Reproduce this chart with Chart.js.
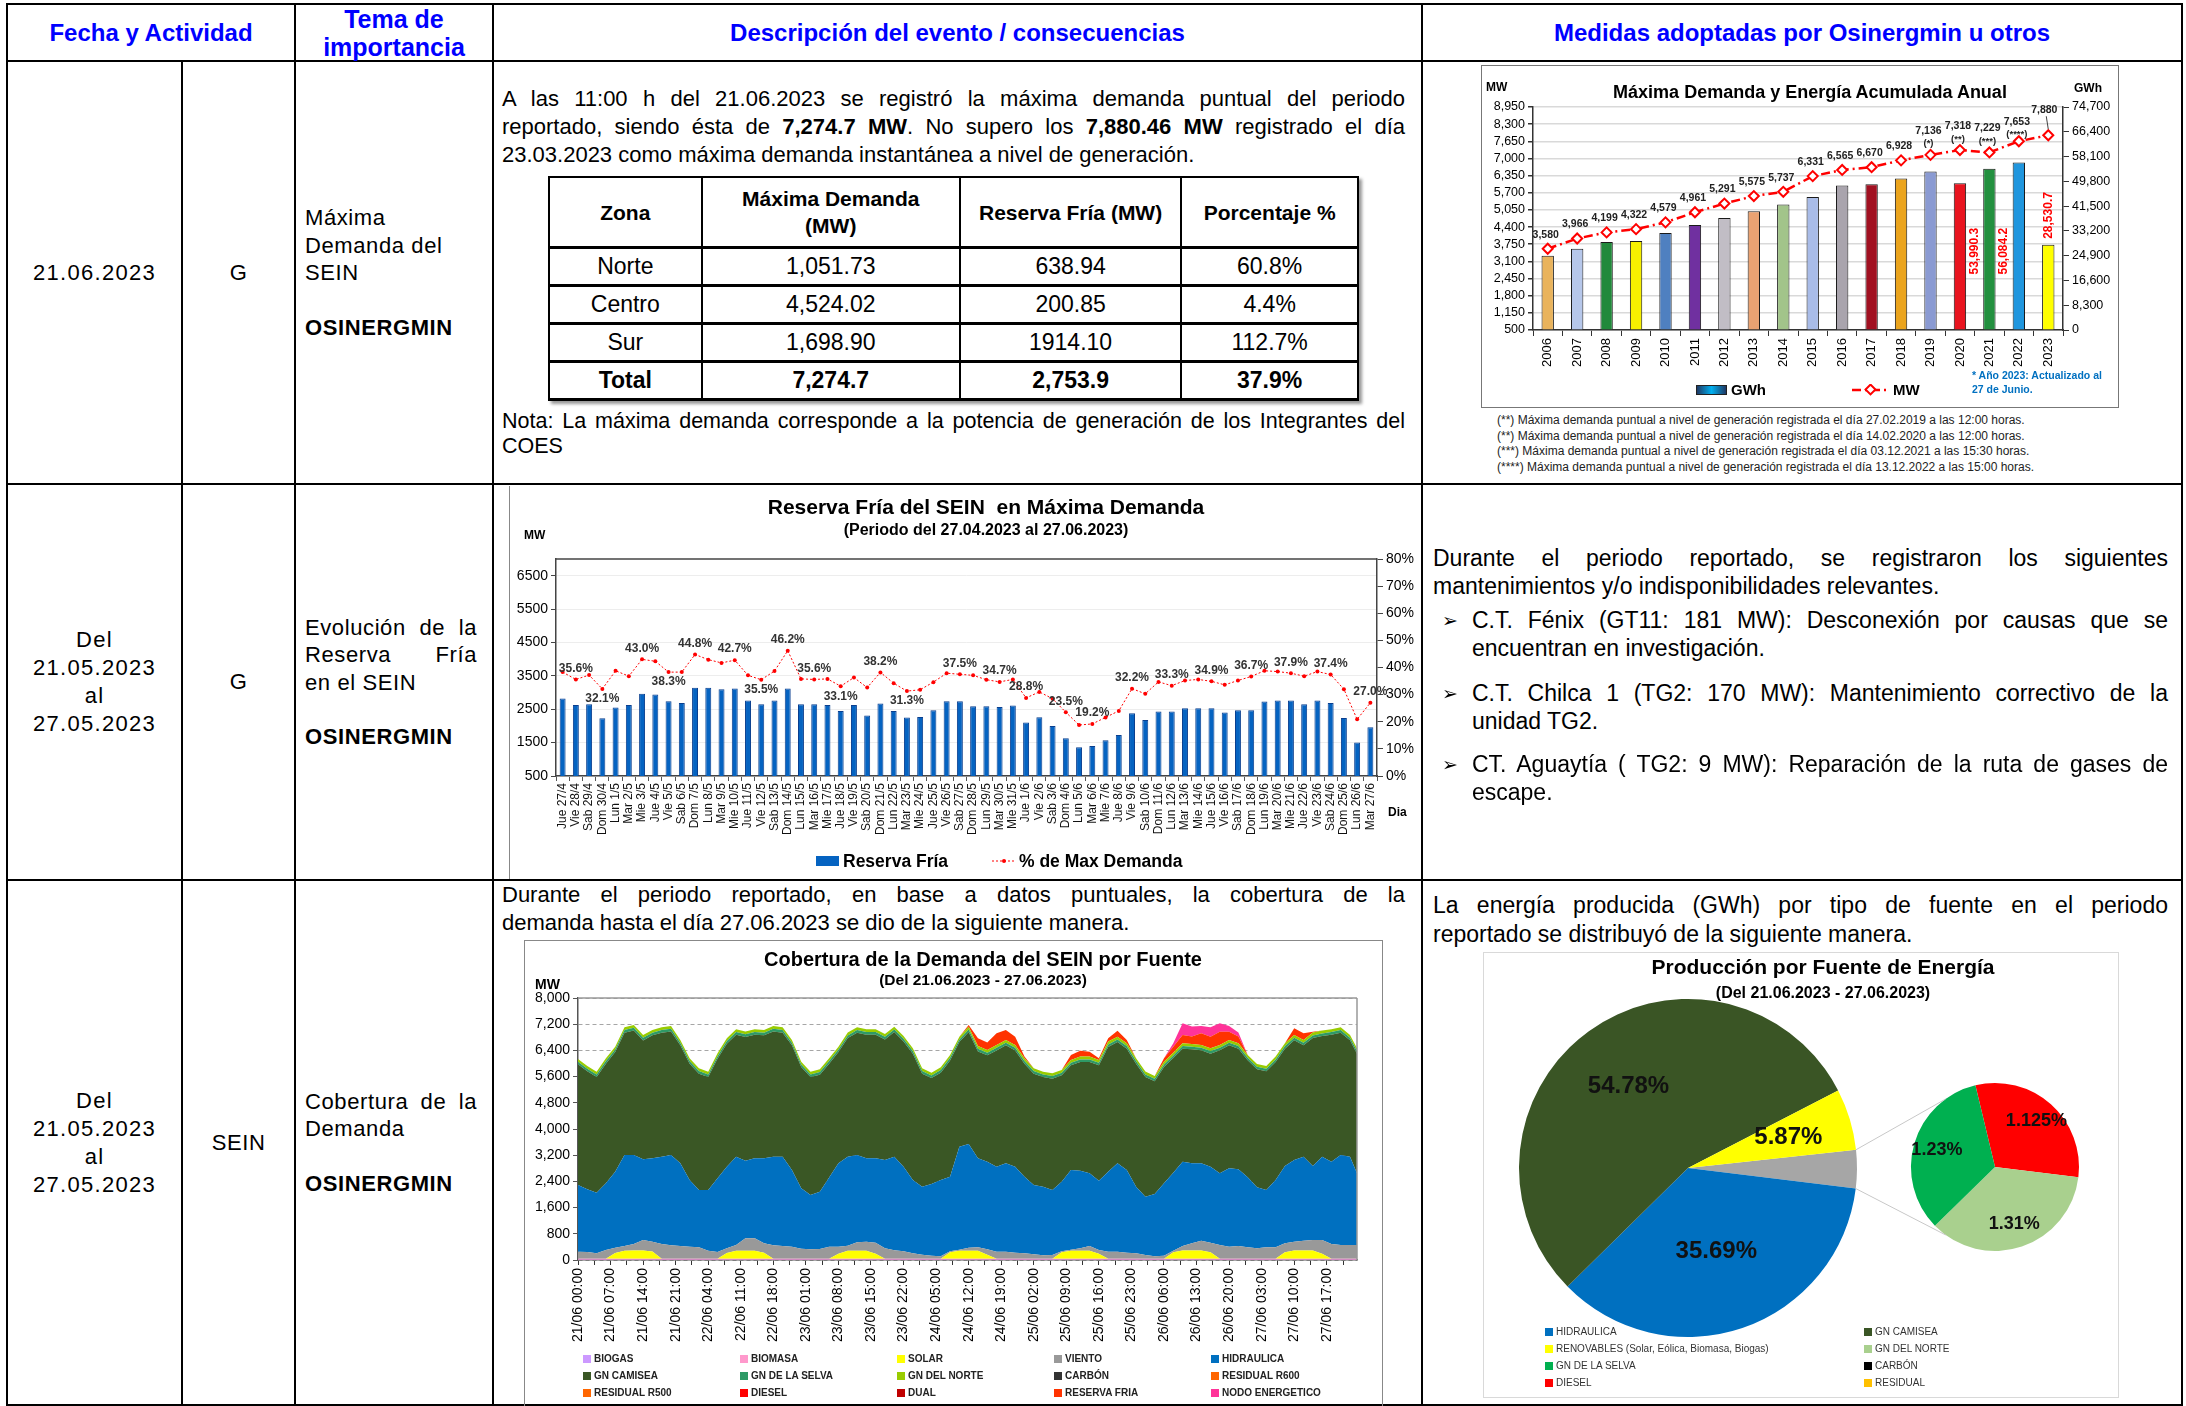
<!DOCTYPE html>
<html lang="es">
<head>
<meta charset="utf-8">
<title>Reporte SEIN</title>
<script src="https://cdn.jsdelivr.net/npm/chart.js@4.4.1/dist/chart.umd.min.js"></script>
<style>
  html, body { margin: 0; padding: 0; }
  body { width: 2186px; height: 1406px; position: relative; overflow: hidden; background: #fff;
         font-family: "Liberation Sans", Arial, Helvetica, sans-serif; color: #000; }
  .hl { position: absolute; height: 2px; background: #000; }
  .vl { position: absolute; width: 2px; background: #000; }
  .th { position: absolute; display: flex; align-items: center; justify-content: center; text-align: center;
        color: #0000FF; font-weight: bold; font-size: 24px; line-height: 28px; }
  .cel { position: absolute; display: flex; align-items: center; justify-content: center; text-align: center;
         font-size: 22px; line-height: 28px; letter-spacing: 0.6px; }
  .fecha { letter-spacing: 1.3px; }
  .tema { position: absolute; display: flex; flex-direction: column; justify-content: center;
          font-size: 22px; line-height: 27.5px; letter-spacing: 0.6px; text-align: left; }
  .tema p { margin: 0; }
  .tema b { margin-top: 27px; display: block; }
  .txt { position: absolute; font-size: 22px; line-height: 28px; text-align: justify; }
  .txt p { margin: 0; }
  .jl { display: block; text-align: justify; text-align-last: justify; }
  .bul { position: relative; padding-left: 39px; }
  .bul::before { content: "\27A2"; position: absolute; left: 9px; top: 0; font-family: "DejaVu Sans", sans-serif; font-size: 19px; }
  canvas { position: absolute; }
  .lbl { position: absolute; white-space: nowrap; }
  .ctr { position: absolute; text-align: center; white-space: nowrap; font-weight: bold; }
  table.zona { position: absolute; left: 548px; top: 176px; width: 811px; border-collapse: collapse;
               font-size: 23px; box-shadow: 3px 3px 3px #999; }
  table.zona td, table.zona th { border: 2px solid #000; text-align: center; padding: 0; }
  table.zona tr { border-bottom: 3px solid #000; }
  table.zona th { font-size: 21px; line-height: 27px; height: 68px; }
  table.zona td { height: 35px; }
  .leg { position: absolute; display: grid; font-size: 10px; font-weight: bold; color: #222; }
  .leg span { display: flex; align-items: center; white-space: nowrap; }
  .leg i { display: inline-block; width: 8px; height: 8px; margin-right: 3px; }
</style>
</head>
<body>

<!-- lineas de la tabla principal -->
<div class="hl" style="left:6px;top:3px;width:2177px"></div>
<div class="hl" style="left:6px;top:60px;width:2177px"></div>
<div class="hl" style="left:6px;top:483px;width:2177px"></div>
<div class="hl" style="left:6px;top:879px;width:2177px"></div>
<div class="hl" style="left:6px;top:1404px;width:2177px"></div>
<div class="vl" style="left:6px;top:3px;height:1403px"></div>
<div class="vl" style="left:181px;top:60px;height:1346px"></div>
<div class="vl" style="left:294px;top:3px;height:1403px"></div>
<div class="vl" style="left:492px;top:3px;height:1403px"></div>
<div class="vl" style="left:1421px;top:3px;height:1403px"></div>
<div class="vl" style="left:2181px;top:3px;height:1403px"></div>

<!-- cabecera -->
<div class="th" style="left:8px;top:5px;width:286px;height:55px;font-size:24px">Fecha y Actividad</div>
<div class="th" style="left:296px;top:5px;width:196px;height:55px;font-size:25px">Tema de<br>importancia</div>
<div class="th" style="left:494px;top:5px;width:927px;height:55px">Descripción del evento / consecuencias</div>
<div class="th" style="left:1423px;top:5px;width:758px;height:55px">Medidas adoptadas por Osinergmin u otros</div>

<!-- columnas izquierdas -->
<div class="cel fecha" style="left:8px;top:62px;width:173px;height:421px">21.06.2023</div>
<div class="cel" style="left:183px;top:62px;width:111px;height:421px">G</div>
<div class="tema" style="left:305px;top:62px;width:172px;height:421px"><p>Máxima<br>Demanda del<br>SEIN</p><b>OSINERGMIN</b></div>

<div class="cel fecha" style="left:8px;top:485px;width:173px;height:394px">Del<br>21.05.2023<br>al<br>27.05.2023</div>
<div class="cel" style="left:183px;top:485px;width:111px;height:394px">G</div>
<div class="tema" style="left:305px;top:485px;width:172px;height:394px"><p><span class="jl">Evolución de la</span><span class="jl">Reserva Fría</span>en el SEIN</p><b>OSINERGMIN</b></div>

<div class="cel fecha" style="left:8px;top:881px;width:173px;height:523px">Del<br>21.05.2023<br>al<br>27.05.2023</div>
<div class="cel" style="left:183px;top:881px;width:111px;height:523px">SEIN</div>
<div class="tema" style="left:305px;top:881px;width:172px;height:523px"><p><span class="jl">Cobertura de la</span>Demanda</p><b>OSINERGMIN</b></div>

<!-- fila 1: descripcion -->
<div class="txt" style="left:502px;top:85px;width:903px"><span class="jl">A las 11:00 h del 21.06.2023 se registró la máxima demanda puntual del periodo</span><span class="jl">reportado, siendo ésta de <b>7,274.7 MW</b>. No supero los <b>7,880.46 MW</b> registrado el día</span>23.03.2023 como máxima demanda instantánea a nivel de generación.</div>
<table class="zona" id="tablaZona"></table>
<div class="txt" style="left:502px;top:409px;width:903px;line-height:25px;font-size:21.5px">Nota: La máxima demanda corresponde a la potencia de generación de los Integrantes del COES</div>

<!-- fila 1: grafico maxima demanda -->
<div style="position:absolute;left:1481px;top:65px;width:638px;height:343px;border:1.5px solid #777;box-sizing:border-box"></div>
<canvas id="cMaxDem" width="637" height="342" style="left:1482px;top:66px"></canvas>
<div class="ctr" style="left:1510px;top:81px;width:600px;font-size:18px;line-height:22px">Máxima Demanda y Energía Acumulada Anual</div>
<div class="lbl" style="left:1486px;top:80px;font-size:12px;font-weight:bold">MW</div>
<div class="lbl" style="left:2074px;top:81px;font-size:12px;font-weight:bold">GWh</div>
<div style="position:absolute;left:1696px;top:385px;width:31px;height:10px;border:1px solid #222;box-sizing:border-box;background:linear-gradient(to right,#1F3864,#00B0F0,#1F3864)"></div>
<div class="lbl" style="left:1731px;top:381px;font-size:15px;font-weight:bold;line-height:18px">GWh</div>
<svg style="position:absolute;left:1852px;top:384px" width="38" height="12"><line x1="0" y1="6" x2="38" y2="6" stroke="#FF0000" stroke-width="2.5" stroke-dasharray="9,4,2,4"/><rect x="15" y="2" width="7" height="7" transform="rotate(45 18.5 5.5)" fill="#fff" stroke="#FF0000" stroke-width="2"/></svg>
<div class="lbl" style="left:1893px;top:381px;font-size:15px;font-weight:bold;line-height:18px">MW</div>
<div class="lbl" style="left:1972px;top:368px;font-size:10.5px;font-weight:bold;color:#0070C0;line-height:14px">* Año 2023: Actualizado al<br>27 de Junio.</div>
<div class="lbl" style="left:1497px;top:413px;font-size:12px;line-height:15.7px;color:#222">(**) Máxima demanda puntual a nivel de generación registrada el día 27.02.2019 a las 12:00 horas.<br>(**) Máxima demanda puntual a nivel de generación registrada el día 14.02.2020 a las 12:00 horas.<br>(***) Máxima demanda puntual a nivel de generación registrada el día 03.12.2021 a las 15:30 horas.<br>(****) Máxima demanda puntual a nivel de generación registrada el día 13.12.2022 a las 15:00 horas.</div>

<!-- fila 2: reserva fria -->
<div style="position:absolute;left:509px;top:486px;width:1px;height:393px;background:#888"></div>
<canvas id="cReserva" width="912" height="390" style="left:509px;top:488px"></canvas>
<div class="ctr" style="left:686px;top:494px;width:600px;font-size:21px;line-height:26px">Reserva Fría del SEIN&nbsp; en Máxima Demanda</div>
<div class="ctr" style="left:686px;top:520px;width:600px;font-size:16px;line-height:19px">(Periodo del 27.04.2023 al 27.06.2023)</div>
<div class="lbl" style="left:524px;top:528px;font-size:12px;font-weight:bold">MW</div>
<div class="lbl" style="left:1388px;top:805px;font-size:12px;font-weight:bold">Dia</div>
<div style="position:absolute;left:816px;top:856px;width:23px;height:10px;background:#0563C1"></div>
<div class="lbl" style="left:843px;top:851px;font-size:17.5px;font-weight:bold;line-height:20px">Reserva Fría</div>
<svg style="position:absolute;left:992px;top:855px" width="24" height="12"><line x1="0" y1="6" x2="24" y2="6" stroke="#FF0000" stroke-width="1" stroke-dasharray="2,2"/><circle cx="12" cy="6" r="2" fill="#FF0000"/></svg>
<div class="lbl" style="left:1019px;top:851px;font-size:17.5px;font-weight:bold;line-height:20px">% de Max Demanda</div>

<div class="txt" style="left:1433px;top:544px;width:735px;font-size:23px">
  <p><span class="jl">Durante el periodo reportado, se registraron los siguientes</span>mantenimientos y/o indisponibilidades relevantes.</p>
  <p class="bul" style="margin-top:6px"><span class="jl">C.T. Fénix (GT11: 181 MW): Desconexión por causas que se</span>encuentran en investigación.</p>
  <p class="bul" style="margin-top:17px"><span class="jl">C.T. Chilca 1 (TG2: 170 MW): Mantenimiento correctivo de la</span>unidad TG2.</p>
  <p class="bul" style="margin-top:15px"><span class="jl">CT. Aguaytía ( TG2: 9 MW): Reparación de la ruta de gases de</span>escape.</p>
</div>

<!-- fila 3: cobertura -->
<div class="txt" style="left:502px;top:881px;width:903px"><span class="jl">Durante el periodo reportado, en base a datos puntuales, la cobertura de la</span>demanda hasta el día 27.06.2023 se dio de la siguiente manera.</div>
<div style="position:absolute;left:524px;top:940px;width:859px;height:480px;border:1px solid #888;box-sizing:border-box"></div>
<canvas id="cCobertura" width="859" height="466" style="left:524px;top:940px"></canvas>
<div class="ctr" style="left:683px;top:947px;width:600px;font-size:20px;line-height:24px">Cobertura de la Demanda del SEIN por Fuente</div>
<div class="ctr" style="left:683px;top:971px;width:600px;font-size:15.5px;line-height:18px">(Del 21.06.2023 - 27.06.2023)</div>
<div class="lbl" style="left:535px;top:976px;font-size:14px;font-weight:bold">MW</div>
<div class="leg" id="legCobertura" style="left:583px;top:1350px;grid-template-columns:repeat(5,157px);grid-auto-rows:17px"></div>

<div class="txt" style="left:1433px;top:891px;width:735px;font-size:23px;line-height:29px"><span class="jl">La energía producida (GWh) por tipo de fuente en el periodo</span>reportado se distribuyó de la siguiente manera.</div>
<div style="position:absolute;left:1483px;top:952px;width:636px;height:446px;border:1.5px solid #D9D9D9;box-sizing:border-box"></div>
<canvas id="cPie" width="636" height="446" style="left:1483px;top:952px"></canvas>
<canvas id="cPie2" width="636" height="446" style="left:1483px;top:952px"></canvas>
<div class="ctr" style="left:1523px;top:954px;width:600px;font-size:21px;line-height:25px">Producción por Fuente de Energía</div>
<div class="ctr" style="left:1523px;top:983px;width:600px;font-size:16px;line-height:19px">(Del 21.06.2023 - 27.06.2023)</div>
<div class="leg" id="legPie" style="left:1545px;top:1323px;grid-template-columns:319px 200px;grid-auto-rows:17px;font-weight:normal;color:#333"></div>

<script>
// ---------- tabla de zonas ----------
const zonas = ['Norte', 'Centro', 'Sur', 'Total'];
const zonaMaxDemanda = ['1,051.73', '4,524.02', '1,698.90', '7,274.7'];
const zonaReservaFria = ['638.94', '200.85', '1914.10', '2,753.9'];
const zonaPorcentaje = ['60.8%', '4.4%', '112.7%', '37.9%'];

// ---------- maxima demanda y energia anual ----------
const anios = ['2006', '2007', '2008', '2009', '2010', '2011', '2012', '2013', '2014', '2015', '2016', '2017', '2018', '2019', '2020', '2021', '2022', '2023'];
const energiaGWh = [24860, 27220, 29450, 29790, 32480, 35170, 37520, 39760, 42000, 44570, 48380, 48830, 50730, 53090, 49170, 53990.3, 56084.2, 28530.7];
const maxDemandaMW = [3580, 3966, 4199, 4322, 4579, 4961, 5291, 5575, 5737, 6331, 6565, 6670, 6928, 7136, 7318, 7229, 7653, 7880];
const notaMW = ['', '', '', '', '', '', '', '', '', '', '', '', '', '(*)', '(**)', '(***)', '(****)', ''];
const coloresAnio = ['#E9B35C', '#B6C7EA', '#21893B', '#F7F000', '#4F80C0', '#7030A0', '#C1BDC5', '#E9A272', '#A2C48A', '#A9BCE8', '#A9A4AD', '#A11021', '#EBA41D', '#8A9AD2', '#E9141F', '#23903F', '#2096DE', '#FFFF00'];
const gwhEtiquetaIdx = [15, 16, 17];

// ---------- reserva fria ----------
const dias = ['Jue 27/4', 'Vie 28/4', 'Sab 29/4', 'Dom 30/4', 'Lun 1/5', 'Mar 2/5', 'Mie 3/5', 'Jue 4/5', 'Vie 5/5', 'Sab 6/5',
  'Dom 7/5', 'Lun 8/5', 'Mar 9/5', 'Mie 10/5', 'Jue 11/5', 'Vie 12/5', 'Sab 13/5', 'Dom 14/5', 'Lun 15/5', 'Mar 16/5',
  'Mie 17/5', 'Jue 18/5', 'Vie 19/5', 'Sab 20/5', 'Dom 21/5', 'Lun 22/5', 'Mar 23/5', 'Mie 24/5', 'Jue 25/5', 'Vie 26/5',
  'Sab 27/5', 'Dom 28/5', 'Lun 29/5', 'Mar 30/5', 'Mie 31/5', 'Jue 1/6', 'Vie 2/6', 'Sab 3/6', 'Dom 4/6', 'Lun 5/6',
  'Mar 6/6', 'Mie 7/6', 'Jue 8/6', 'Vie 9/6', 'Sab 10/6', 'Dom 11/6', 'Lun 12/6', 'Mar 13/6', 'Mie 14/6', 'Jue 15/6',
  'Vie 16/6', 'Sab 17/6', 'Dom 18/6', 'Lun 19/6', 'Mar 20/6', 'Mie 21/6', 'Jue 22/6', 'Vie 23/6', 'Sab 24/6', 'Dom 25/6',
  'Lun 26/6', 'Mar 27/6'];
const reservaFriaMW = [2820, 2630, 2650, 2230, 2550, 2630, 2960, 2940, 2740, 2690,
  3140, 3140, 3100, 3120, 2760, 2650, 2760, 3120, 2650, 2650,
  2630, 2450, 2630, 2310, 2670, 2450, 2250, 2270, 2470, 2740,
  2740, 2590, 2590, 2570, 2610, 2100, 2260, 2000, 1630, 1360,
  1400, 1570, 1730, 2380, 2180, 2430, 2430, 2530, 2530, 2530,
  2400, 2470, 2470, 2730, 2760, 2760, 2650, 2760, 2690, 2240,
  1500, 1960];
const pctMaxDemanda = [38.3, 35.6, 37.2, 32.1, 38.8, 36.8, 43.0, 42.3, 38.3, 38.3,
  44.8, 42.9, 41.7, 42.7, 37.1, 35.5, 38.7, 46.2, 35.8, 35.6,
  35.8, 33.1, 36.3, 32.6, 38.2, 34.2, 31.3, 31.8, 34.6, 37.9,
  37.5, 37.1, 35.5, 34.7, 35.6, 28.8, 31.0, 28.5, 23.5, 18.8,
  19.2, 21.6, 24.0, 32.2, 30.3, 34.7, 33.3, 35.2, 35.6, 34.9,
  33.6, 35.2, 36.7, 38.8, 38.5, 37.9, 36.8, 38.5, 37.4, 32.0,
  20.9, 27.0];
const pctIdxArriba = [1, 6, 10, 13, 17, 19, 24, 30, 33, 35, 38, 40, 43, 46, 49, 52, 55, 58, 61];
const pctIdxAbajo = [3, 8, 15, 21, 26];
const mwTicks = [500, 1500, 2500, 3500, 4500, 5500, 6500];

// ---------- cobertura de la demanda (cada 2 horas) ----------
const horaEtiquetas = ['21/06 00:00', '21/06 07:00', '21/06 14:00', '21/06 21:00', '22/06 04:00', '22/06 11:00', '22/06 18:00',
  '23/06 01:00', '23/06 08:00', '23/06 15:00', '23/06 22:00', '24/06 05:00', '24/06 12:00', '24/06 19:00',
  '25/06 02:00', '25/06 09:00', '25/06 16:00', '25/06 23:00', '26/06 06:00', '26/06 13:00', '26/06 20:00',
  '27/06 03:00', '27/06 10:00', '27/06 17:00'];
const horas = [0, 2, 4, 6, 8, 10, 12, 14, 16, 18, 20, 22,
  24, 26, 28, 30, 32, 34, 36, 38, 40, 42, 44, 46,
  48, 50, 52, 54, 56, 58, 60, 62, 64, 66, 68, 70,
  72, 74, 76, 78, 80, 82, 84, 86, 88, 90, 92, 94,
  96, 98, 100, 102, 104, 106, 108, 110, 112, 114, 116, 118,
  120, 122, 124, 126, 128, 130, 132, 134, 136, 138, 140, 142,
  144, 146, 148, 150, 152, 154, 156, 158, 160, 162, 164, 166,
  167.5];
const biogasMW = [5, 5, 5, 5, 5, 5, 5, 5, 5, 5, 5, 5,
  5, 5, 5, 5, 5, 5, 5, 5, 5, 5, 5, 5,
  5, 5, 5, 5, 5, 5, 5, 5, 5, 5, 5, 5,
  5, 5, 5, 5, 5, 5, 5, 5, 5, 5, 5, 5,
  5, 5, 5, 5, 5, 5, 5, 5, 5, 5, 5, 5,
  5, 5, 5, 5, 5, 5, 5, 5, 5, 5, 5, 5,
  5, 5, 5, 5, 5, 5, 5, 5, 5, 5, 5, 5,
  5];
const biomasaMW = [35, 35, 35, 35, 35, 35, 35, 35, 35, 35, 35, 35,
  35, 35, 35, 35, 35, 35, 35, 35, 35, 35, 35, 35,
  35, 35, 35, 35, 35, 35, 35, 35, 35, 35, 35, 35,
  35, 35, 35, 35, 35, 35, 35, 35, 35, 35, 35, 35,
  35, 35, 35, 35, 35, 35, 35, 35, 35, 35, 35, 35,
  35, 35, 35, 35, 35, 35, 35, 35, 35, 35, 35, 35,
  35, 35, 35, 35, 35, 35, 35, 35, 35, 35, 35, 35,
  35];
const solarMW = [0, 0, 0, 0, 170, 245, 250, 250, 220, 0, 0, 0,
  0, 0, 0, 0, 170, 240, 245, 245, 180, 0, 0, 0,
  0, 0, 0, 0, 150, 240, 240, 240, 150, 0, 0, 0,
  0, 0, 0, 0, 200, 240, 240, 240, 120, 0, 0, 0,
  0, 0, 0, 0, 200, 240, 240, 240, 150, 0, 0, 0,
  0, 0, 0, 0, 200, 250, 250, 250, 200, 0, 0, 0,
  0, 0, 0, 0, 200, 250, 250, 250, 150, 0, 0, 0,
  0];
const vientoMW = [215, 204, 164, 265, 167, 143, 199, 321, 300, 449, 408, 388,
  367, 347, 245, 204, 146, 178, 377, 377, 289, 408, 388, 367,
  306, 286, 296, 367, 217, 158, 260, 280, 340, 316, 255, 225,
  164, 123, 92, 72, 30, 30, 97, 107, 166, 215, 215, 184,
  164, 133, 103, 113, 30, 30, 76, 148, 115, 215, 215, 184,
  164, 113, 72, 92, 45, 138, 219, 300, 290, 418, 367, 388,
  347, 316, 347, 347, 269, 270, 300, 321, 421, 449, 418, 418,
  418];
const hidroMW = [2035, 1914, 1852, 2036, 2321, 2779, 2718, 2463, 2545, 2667, 2759, 2524,
  2036, 1751, 1853, 2250, 2494, 2698, 2372, 2443, 2596, 2708, 2728, 2342,
  1843, 1659, 1751, 2113, 2545, 2718, 2667, 2545, 2575, 2698, 2861, 2585,
  2239, 2077, 2189, 2331, 2275, 3151, 3166, 2718, 2677, 2595, 2697, 2626,
  2341, 2117, 2097, 1985, 2122, 2439, 2372, 2219, 2118, 2443, 2697, 2525,
  2036, 1781, 1904, 2209, 2382, 2575, 2443, 2362, 2320, 2189, 2393, 2341,
  2138, 1863, 1751, 2056, 2362, 2494, 2566, 2260, 2545, 2514, 2749, 2698,
  2189];
const camiseaMW = [3685, 3602, 3529, 3654, 3652, 3733, 3803, 3631, 3755, 3784, 3773, 3603,
  3552, 3552, 3447, 3651, 3755, 3724, 3776, 3775, 3755, 3824, 3784, 3806,
  3701, 3600, 3573, 3475, 3398, 3622, 3733, 3775, 3775, 3681, 3804, 3825,
  3857, 3450, 3234, 3277, 3550, 3194, 3417, 3265, 3247, 3550, 3603, 3550,
  3450, 3400, 3345, 3397, 3248, 3194, 3317, 3398, 3520, 3805, 3703, 3703,
  3754, 3653, 3439, 3551, 3500, 3449, 3480, 3449, 3449, 3754, 3754, 3683,
  3571, 3602, 3622, 3602, 3581, 3653, 3398, 3907, 3683, 3877, 3733, 3551,
  3652];
const gnSelvaMW = [80, 80, 80, 80, 80, 80, 80, 80, 80, 80, 80, 80,
  80, 80, 80, 80, 80, 80, 80, 80, 80, 80, 80, 80,
  80, 80, 80, 80, 80, 80, 80, 80, 80, 80, 80, 80,
  80, 80, 80, 80, 80, 80, 80, 80, 80, 80, 80, 80,
  80, 80, 80, 80, 80, 80, 80, 80, 80, 80, 80, 80,
  80, 80, 80, 80, 80, 80, 80, 80, 80, 80, 80, 80,
  80, 80, 80, 80, 80, 80, 80, 80, 80, 80, 80, 80,
  80];
const gnNorteMW = [85, 85, 85, 85, 85, 85, 85, 85, 85, 85, 85, 85,
  85, 85, 85, 85, 85, 85, 85, 85, 85, 85, 85, 85,
  85, 85, 85, 85, 85, 85, 85, 85, 85, 85, 85, 85,
  85, 85, 85, 85, 85, 85, 85, 85, 85, 85, 85, 85,
  85, 85, 85, 85, 85, 85, 85, 85, 85, 85, 85, 85,
  85, 85, 85, 85, 85, 85, 85, 85, 85, 85, 85, 85,
  85, 85, 85, 85, 85, 85, 85, 85, 85, 85, 85, 85,
  85];
const reservaCobMW = [0, 0, 0, 0, 0, 0, 0, 0, 0, 0, 0, 0,
  0, 0, 0, 0, 0, 0, 0, 0, 0, 0, 0, 0,
  0, 0, 0, 0, 0, 0, 0, 0, 0, 0, 0, 0,
  0, 0, 0, 0, 0, 0, 50, 234, 224, 356, 305, 254,
  50, 0, 0, 0, 0, 150, 183, 150, 50, 100, 183, 100,
  0, 0, 0, 100, 183, 254, 224, 356, 356, 407, 254, 204,
  0, 0, 0, 0, 0, 204, 204, 30, 0, 0, 0, 0,
  0];
const nodoMW = [0, 0, 0, 0, 0, 0, 0, 0, 0, 0, 0, 0,
  0, 0, 0, 0, 0, 0, 0, 0, 0, 0, 0, 0,
  0, 0, 0, 0, 0, 0, 0, 0, 0, 0, 0, 0,
  0, 0, 0, 0, 0, 0, 0, 0, 0, 0, 0, 0,
  0, 0, 0, 0, 0, 0, 0, 0, 0, 0, 0, 0,
  0, 0, 0, 0, 100, 356, 305, 224, 285, 254, 173, 122,
  0, 0, 0, 0, 0, 0, 0, 0, 0, 0, 0, 0,
  0];
const fuentesLeyenda = ['BIOGAS', 'BIOMASA', 'SOLAR', 'VIENTO', 'HIDRAULICA', 'GN CAMISEA', 'GN DE LA SELVA', 'GN DEL NORTE', 'CARBÓN', 'RESIDUAL R600', 'RESIDUAL R500', 'DIESEL', 'DUAL', 'RESERVA FRIA', 'NODO ENERGETICO'];
const coloresFuente = ['#CC99FF', '#FF99CC', '#FFFF00', '#999999', '#0070C0', '#3A5725', '#2E9A66', '#99CC00', '#333333', '#FF6600', '#FF6600', '#FF0000', '#C00000', '#FF3300', '#FF3399'];

// ---------- produccion por fuente ----------
const pieEtiquetas = ['OTROS', 'HIDRAULICA', 'GN CAMISEA', 'RENOVABLES'];
const piePct = [35.69, 54.78, 5.87]; // hidraulica, camisea, renovables
const pieColores = ['#A6A6A6', '#0070C0', '#3A5525', '#FFFF00'];
const pie2Etiquetas = ['DIESEL', 'GN DEL NORTE', 'GN DE LA SELVA'];
const pie2Pct = [1.125, 1.31, 1.23];
const pie2Colores = ['#FF0000', '#A9D08E', '#00B050'];
const leyendaPie = ['HIDRAULICA', 'GN CAMISEA', 'RENOVABLES (Solar, Eólica, Biomasa, Biogas)', 'GN DEL NORTE', 'GN DE LA SELVA', 'CARBÓN', 'DIESEL', 'RESIDUAL'];
const leyendaPieColores = ['#0070C0', '#3A5525', '#FFFF00', '#A9D08E', '#00B050', '#000000', '#FF0000', '#FFC000'];

// ======================================================
const F = '"Liberation Sans", Arial, Helvetica, sans-serif';
Chart.defaults.font.family = F;
Chart.defaults.color = '#000';
Chart.defaults.animation = false;
Chart.defaults.responsive = false;
Chart.defaults.plugins.legend.display = false;
Chart.defaults.plugins.tooltip.enabled = false;
const fmt = v => v.toLocaleString('en-US');

// tabla
const tabla = document.getElementById('tablaZona');
let html = '<colgroup><col style="width:153px"><col style="width:259px"><col style="width:222px"><col style="width:177px"></colgroup>';
html += '<tr><th>Zona</th><th>Máxima Demanda<br>(MW)</th><th>Reserva Fría (MW)</th><th>Porcentaje %</th></tr>';
zonas.forEach((z, i) => {
  const b = i === zonas.length - 1 ? ' style="font-weight:bold"' : '';
  html += `<tr${b}><td>${z}</td><td>${zonaMaxDemanda[i]}</td><td>${zonaReservaFria[i]}</td><td>${zonaPorcentaje[i]}</td></tr>`;
});
tabla.innerHTML = html;

// leyendas html
function leyenda(id, nombres, colores) {
  document.getElementById(id).innerHTML = nombres.map((n, i) =>
    `<span><i style="background:${colores[i]}"></i>${n}</span>`).join('');
}
leyenda('legCobertura', fuentesLeyenda, coloresFuente);
leyenda('legPie', leyendaPie, leyendaPieColores);

// marco del area de trazado
const marco = {
  id: 'marco',
  afterDraw(chart, args, o) {
    const { left, right, top, bottom } = chart.chartArea;
    const c = chart.ctx;
    c.save();
    c.strokeStyle = o.color;
    c.lineWidth = o.width;
    c.beginPath();
    if (o.top) { c.moveTo(left, top); c.lineTo(right, top); }
    if (o.right) { c.moveTo(right, top); c.lineTo(right, bottom); }
    c.stroke();
    c.restore();
  }
};

// ---------- grafico 1 ----------
const etiquetasMaxDem = {
  id: 'etiquetasMaxDem',
  afterDatasetsDraw(chart) {
    const c = chart.ctx;
    const linea = chart.getDatasetMeta(0).data;
    const barras = chart.getDatasetMeta(1).data;
    const yS = chart.scales.yGWh;
    const ult = linea.length - 1;
    c.save();
    c.textAlign = 'center';
    c.textBaseline = 'middle';
    c.fillStyle = '#222';
    linea.forEach((p, i) => {
      c.font = 'bold 10.5px ' + F;
      if (notaMW[i]) {
        const dv = i === ult - 1 ? 19 : 24;
        const dn = i === ult - 1 ? 7 : 11;
        c.fillText(fmt(maxDemandaMW[i]), p.x - 2, p.y - dv);
        c.font = 'bold 9.5px ' + F;
        c.fillText(notaMW[i], p.x - 2, p.y - dn);
      } else if (i === ult) {
        c.fillText(fmt(maxDemandaMW[i]), p.x - 4, p.y - 25);
        c.strokeStyle = '#444'; c.lineWidth = 1;
        c.beginPath(); c.moveTo(p.x - 2, p.y - 19); c.lineTo(p.x, p.y - 6); c.stroke();
      } else {
        c.fillText(fmt(maxDemandaMW[i]), p.x - 2, p.y - 14);
      }
    });
    const paso = barras[1].x - barras[0].x;
    c.fillStyle = '#FF0000';
    c.font = 'bold 12px ' + F;
    gwhEtiquetaIdx.forEach(i => {
      const b = barras[i];
      const txt = energiaGWh[i].toLocaleString('en-US', { minimumFractionDigits: 1, maximumFractionDigits: 1 });
      const w = c.measureText(txt).width;
      let x, y;
      if (i === ult) { x = b.x; y = b.y - 6 - w / 2; }
      else { x = b.x - paso * 0.5; y = yS.getPixelForValue(26400); }
      c.save();
      c.translate(x, y);
      c.rotate(-Math.PI / 2);
      c.fillText(txt, 0, 0);
      c.restore();
    });
    c.restore();
  }
};

new Chart(document.getElementById('cMaxDem'), {
  data: {
    labels: anios,
    datasets: [
      { type: 'line', label: 'MW', data: maxDemandaMW, yAxisID: 'yMW', order: 0,
        borderColor: '#FF0000', borderWidth: 2.5, borderDash: [9, 4, 2, 4],
        pointStyle: 'rectRot', pointRadius: 5, pointBorderColor: '#FF0000',
        pointBackgroundColor: '#FFFFFF', pointBorderWidth: 2 },
      { type: 'bar', label: 'GWh', data: energiaGWh, yAxisID: 'yGWh', order: 1,
        backgroundColor: coloresAnio, borderColor: '#1a1a1a', borderWidth: 1,
        barPercentage: 0.42, categoryPercentage: 1 }
    ]
  },
  options: {
    devicePixelRatio: 1,
    layout: { padding: { left: 0, right: 0, top: 41, bottom: 38 } },
    scales: {
      x: {
        grid: { drawOnChartArea: false, color: '#333', tickLength: 6 },
        border: { color: '#333', width: 1.5 },
        ticks: { minRotation: 90, maxRotation: 90, autoSkip: false, font: { size: 13 }, color: '#000', padding: 2 },
        afterFit(a) { a.height = 40; }
      },
      yMW: {
        position: 'left', min: 500, max: 8950,
        ticks: { stepSize: 650, autoSkip: false, font: { size: 12.5 }, color: '#000', callback: v => fmt(v), padding: 3 },
        grid: { color: '#D9D9D9', lineWidth: 1.5, tickLength: 5, tickColor: '#333' },
        border: { color: '#333', width: 1.5 },
        afterFit(a) { a.width = 51; }
      },
      yGWh: {
        position: 'right', min: 0, max: 74700,
        ticks: { stepSize: 8300, autoSkip: false, font: { size: 12.5 }, color: '#000', callback: v => fmt(v), padding: 3 },
        grid: { drawOnChartArea: false, color: '#333', tickLength: 6 },
        border: { color: '#333', width: 1.5 },
        afterFit(a) { a.width = 56; }
      }
    }
  },
  plugins: [etiquetasMaxDem]
});

// ---------- grafico 2 ----------
const etiquetasPct = {
  id: 'etiquetasPct',
  afterDatasetsDraw(chart) {
    const pts = chart.getDatasetMeta(1).data;
    const c = chart.ctx;
    c.save();
    c.font = 'bold 12px ' + F;
    c.fillStyle = '#333';
    c.textAlign = 'center';
    c.textBaseline = 'middle';
    pctIdxArriba.forEach(i => c.fillText(pctMaxDemanda[i].toFixed(1) + '%', pts[i].x, pts[i].y - 11));
    pctIdxAbajo.forEach(i => c.fillText(pctMaxDemanda[i].toFixed(1) + '%', pts[i].x, pts[i].y + 10));
    c.restore();
  }
};

new Chart(document.getElementById('cReserva'), {
  data: {
    labels: dias,
    datasets: [
      { type: 'bar', label: 'Reserva Fría', data: reservaFriaMW, yAxisID: 'y', order: 1,
        backgroundColor: '#0563C1', borderColor: '#0A3F8F', borderWidth: 1,
        barPercentage: 0.45, categoryPercentage: 1 },
      { type: 'line', label: '% de Max Demanda', data: pctMaxDemanda, yAxisID: 'y1', order: 0,
        borderColor: '#FF0000', borderWidth: 1, borderDash: [2, 2],
        pointRadius: 2, pointBackgroundColor: '#FF0000', pointBorderWidth: 0 }
    ]
  },
  options: {
    devicePixelRatio: 1,
    layout: { padding: { left: 0, right: 0, top: 71, bottom: 42 } },
    scales: {
      x: {
        grid: { drawOnChartArea: false, color: '#555', tickLength: 5 },
        border: { color: '#444', width: 1.5 },
        ticks: { minRotation: 90, maxRotation: 90, autoSkip: false, font: { size: 12 }, color: '#111', padding: 2 },
        afterFit(a) { a.height = 60; }
      },
      y: {
        position: 'left', min: 500, max: 7000,
        afterBuildTicks(a) { a.ticks = mwTicks.map(v => ({ value: v })); },
        ticks: { font: { size: 14 }, color: '#000', callback: v => String(v), padding: 3 },
        grid: { color: '#EDEDED', tickLength: 5, tickColor: '#444' },
        border: { color: '#444', width: 1.5 },
        afterFit(a) { a.width = 47; }
      },
      y1: {
        position: 'right', min: 0, max: 80,
        ticks: { stepSize: 10, font: { size: 14 }, color: '#000', callback: v => v + '%', padding: 3 },
        grid: { drawOnChartArea: false, color: '#444', tickLength: 6 },
        border: { color: '#444', width: 1.5 },
        afterFit(a) { a.width = 44; }
      }
    },
    plugins: { marco: { color: '#444', width: 1.5, top: true, right: false } }
  },
  plugins: [marco, etiquetasPct]
});

// ---------- grafico 3 ----------
const capasCobertura = [
  ['BIOGAS', biogasMW, coloresFuente[0]],
  ['BIOMASA', biomasaMW, coloresFuente[1]],
  ['SOLAR', solarMW, coloresFuente[2]],
  ['VIENTO', vientoMW, coloresFuente[3]],
  ['HIDRAULICA', hidroMW, coloresFuente[4]],
  ['GN CAMISEA', camiseaMW, coloresFuente[5]],
  ['GN DE LA SELVA', gnSelvaMW, coloresFuente[6]],
  ['GN DEL NORTE', gnNorteMW, coloresFuente[7]],
  ['RESERVA FRIA', reservaCobMW, coloresFuente[13]],
  ['NODO ENERGETICO', nodoMW, coloresFuente[14]]
];

new Chart(document.getElementById('cCobertura'), {
  type: 'line',
  data: {
    datasets: capasCobertura.map(([nombre, datos, color], i) => ({
      label: nombre,
      data: horas.map((h, k) => ({ x: h, y: datos[k] })),
      backgroundColor: color,
      borderColor: 'rgba(0,0,0,0)',
      borderWidth: 1,
      fill: i === 0 ? 'origin' : '-1',
      pointRadius: 0,
      tension: 0
    }))
  },
  options: {
    devicePixelRatio: 1,
    layout: { padding: { left: 0, right: 26, top: 58, bottom: 56 } },
    scales: {
      x: {
        type: 'linear', min: 0, max: 167.5,
        afterBuildTicks(a) {
          a.ticks = horaEtiquetas.flatMap((_, i) => [{ value: 7 * i }, { value: 7 * i + 3.5 }]);
        },
        ticks: {
          autoSkip: false, minRotation: 90, maxRotation: 90, font: { size: 14 }, color: '#000', padding: 3,
          callback: v => (v % 7 === 0 ? horaEtiquetas[v / 7] : '')
        },
        grid: { drawOnChartArea: false, color: '#333', tickLength: 5 },
        border: { color: '#555', width: 1.5 },
        afterFit(a) { a.height = 90; }
      },
      y: {
        stacked: true, min: 0, max: 8000,
        ticks: { stepSize: 800, font: { size: 14 }, color: '#000', callback: v => fmt(v), padding: 3 },
        grid: { color: '#A6A6A6', tickLength: 5, tickColor: '#555' },
        border: { color: '#555', width: 1.5, dash: [4, 3] },
        afterFit(a) { a.width = 54; }
      }
    },
    plugins: { marco: { color: '#999', width: 1.5, top: true, right: true } }
  },
  plugins: [marco]
});

// ---------- grafico 4: pie de pie ----------
const otrosPct = pie2Pct.reduce((s, v) => s + v, 0);
const etiquetasPie = {
  id: 'etiquetasPie',
  afterDatasetsDraw(chart, args, o) {
    const arcos = chart.getDatasetMeta(0).data;
    const c = chart.ctx;
    c.save();
    c.font = o.font;
    c.fillStyle = '#111';
    c.textAlign = 'center';
    c.textBaseline = 'middle';
    o.textos.forEach((t, i) => {
      if (!t) return;
      const a = arcos[i];
      const m = (a.startAngle + a.endAngle) / 2;
      const r = a.outerRadius * o.radios[i];
      c.fillText(t, a.x + Math.cos(m) * r, a.y + Math.sin(m) * r);
    });
    c.restore();
  }
};

const pieMain = new Chart(document.getElementById('cPie'), {
  type: 'pie',
  data: {
    labels: pieEtiquetas,
    datasets: [{ data: [otrosPct].concat(piePct), backgroundColor: pieColores, borderWidth: 0 }]
  },
  options: {
    devicePixelRatio: 1,
    rotation: 83.8,
    layout: { padding: { left: 36, top: 47, right: 262, bottom: 61 } },
    plugins: {
      etiquetasPie: {
        font: 'bold 24px "Liberation Sans Narrow", ' + F,
        textos: [null].concat(piePct.map(v => v.toFixed(2) + '%')),
        radios: [0, 0.52, 0.6, 0.62]
      }
    }
  },
  plugins: [etiquetasPie]
});

const lineasConexion = {
  id: 'lineasConexion',
  afterDraw(chart) {
    const a = pieMain.getDatasetMeta(0).data[0];
    const s = chart.getDatasetMeta(0).data[0];
    const c = chart.ctx;
    const ang = 126 * Math.PI / 180;
    c.save();
    c.strokeStyle = '#C8C8C8';
    c.lineWidth = 1;
    c.beginPath();
    c.moveTo(a.x + Math.cos(a.startAngle) * a.outerRadius, a.y + Math.sin(a.startAngle) * a.outerRadius);
    c.lineTo(s.x + Math.cos(-ang) * s.outerRadius, s.y + Math.sin(-ang) * s.outerRadius);
    c.moveTo(a.x + Math.cos(a.endAngle) * a.outerRadius, a.y + Math.sin(a.endAngle) * a.outerRadius);
    c.lineTo(s.x + Math.cos(ang) * s.outerRadius, s.y + Math.sin(ang) * s.outerRadius);
    c.stroke();
    c.restore();
  }
};

new Chart(document.getElementById('cPie2'), {
  type: 'pie',
  data: {
    labels: pie2Etiquetas,
    datasets: [{ data: pie2Pct, backgroundColor: pie2Colores, borderWidth: 0 }]
  },
  options: {
    devicePixelRatio: 1,
    rotation: -13.5,
    layout: { padding: { left: 428, top: 131, right: 40, bottom: 147 } },
    plugins: {
      etiquetasPie: {
        font: 'bold 18px "Liberation Sans Narrow", ' + F,
        textos: ['1.125%', '1.31%', '1.23%'],
        radios: [0.74, 0.72, 0.72]
      }
    }
  },
  plugins: [etiquetasPie, lineasConexion]
});
</script>
</body>
</html>
